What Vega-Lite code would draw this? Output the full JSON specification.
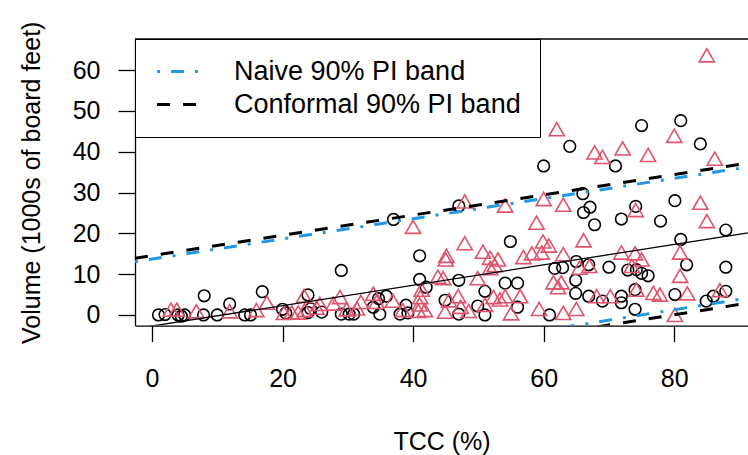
{
  "$schema": "https://vega.github.io/schema/vega-lite/v6.json",
  "autosize": "none",
  "width": 613,
  "height": 286.6,
  "padding": {"left": 135, "top": 39, "right": 0, "bottom": 129.4},
  "background": "white",
  "config": {
    "font": "Liberation Sans",
    "view": {"stroke": null},
    "axis": {
      "grid": false,
      "domainColor": "black",
      "domainWidth": 1.3,
      "tickColor": "black",
      "tickWidth": 1.3,
      "labelColor": "black",
      "titleColor": "black",
      "labelFont": "Liberation Sans",
      "titleFont": "Liberation Sans",
      "labelFontSize": 25,
      "titleFontSize": 25,
      "titleFontWeight": "normal"
    },
    "legend": {
      "orient": "top-left",
      "offset": 0,
      "padding": 19,
      "fillColor": "white",
      "strokeColor": "black",
      "labelFont": "Liberation Sans",
      "labelFontSize": 27,
      "labelColor": "black",
      "labelOffset": 43,
      "symbolOffset": 10,
      "symbolSize": 576,
      "symbolType": "M-1.7,0H1.7",
      "symbolStrokeWidth": 3,
      "rowPadding": 5,
      "labelLimit": 0
    }
  },
  "datasets": {
    "pts": [
      {"x": 1.0, "y": 0.0, "g": "A"}, {"x": 2.0, "y": 0.1, "g": "A"}, {"x": 4.0, "y": 0.0, "g": "A"}, {"x": 5.0, "y": 0.0, "g": "A"},
      {"x": 4.5, "y": -0.3, "g": "A"}, {"x": 7.9, "y": 0.0, "g": "A"}, {"x": 8.0, "y": 4.7, "g": "A"}, {"x": 10.0, "y": 0.0, "g": "A"},
      {"x": 11.9, "y": 2.7, "g": "A"}, {"x": 14.2, "y": 0.0, "g": "A"}, {"x": 15.1, "y": 0.0, "g": "A"}, {"x": 16.9, "y": 5.7, "g": "A"},
      {"x": 20.0, "y": 1.4, "g": "A"}, {"x": 20.5, "y": 0.5, "g": "A"}, {"x": 23.9, "y": 4.9, "g": "A"}, {"x": 23.9, "y": 0.6, "g": "A"},
      {"x": 24.3, "y": 1.5, "g": "A"}, {"x": 26.0, "y": 0.7, "g": "A"}, {"x": 29.0, "y": 10.9, "g": "A"}, {"x": 29.0, "y": 0.2, "g": "A"},
      {"x": 30.2, "y": 0.2, "g": "A"}, {"x": 30.9, "y": 0.2, "g": "A"}, {"x": 33.9, "y": 1.9, "g": "A"}, {"x": 34.7, "y": 4.0, "g": "A"},
      {"x": 34.9, "y": 0.2, "g": "A"}, {"x": 35.9, "y": 4.6, "g": "A"}, {"x": 37.0, "y": 23.4, "g": "A"}, {"x": 38.0, "y": 0.2, "g": "A"},
      {"x": 38.9, "y": 2.4, "g": "A"}, {"x": 39.2, "y": 0.5, "g": "A"}, {"x": 41.0, "y": 8.7, "g": "A"}, {"x": 41.0, "y": 14.5, "g": "A"},
      {"x": 42.0, "y": 6.8, "g": "A"}, {"x": 44.9, "y": 3.6, "g": "A"}, {"x": 47.0, "y": 26.7, "g": "A"}, {"x": 47.0, "y": 8.5, "g": "A"},
      {"x": 47.0, "y": 0.2, "g": "A"}, {"x": 49.9, "y": 2.2, "g": "A"}, {"x": 51.0, "y": 5.8, "g": "A"}, {"x": 51.0, "y": 0.0, "g": "A"},
      {"x": 54.1, "y": 7.8, "g": "A"}, {"x": 54.9, "y": 18.0, "g": "A"}, {"x": 56.0, "y": 7.8, "g": "A"}, {"x": 56.0, "y": 1.9, "g": "A"},
      {"x": 60.0, "y": 36.5, "g": "A"}, {"x": 60.9, "y": 0.0, "g": "A"}, {"x": 61.7, "y": 11.4, "g": "A"}, {"x": 62.9, "y": 11.6, "g": "A"},
      {"x": 64.0, "y": 41.3, "g": "A"}, {"x": 64.9, "y": 8.5, "g": "A"}, {"x": 64.9, "y": 5.3, "g": "A"}, {"x": 65.0, "y": 13.1, "g": "A"},
      {"x": 66.0, "y": 29.7, "g": "A"}, {"x": 66.1, "y": 25.1, "g": "A"}, {"x": 66.9, "y": 12.3, "g": "A"}, {"x": 66.9, "y": 4.6, "g": "A"},
      {"x": 67.1, "y": 26.4, "g": "A"}, {"x": 67.8, "y": 22.1, "g": "A"}, {"x": 69.0, "y": 3.4, "g": "A"}, {"x": 70.0, "y": 11.7, "g": "A"},
      {"x": 71.0, "y": 36.5, "g": "A"}, {"x": 71.9, "y": 23.5, "g": "A"}, {"x": 71.9, "y": 4.6, "g": "A"}, {"x": 71.9, "y": 3.0, "g": "A"},
      {"x": 72.9, "y": 11.0, "g": "A"}, {"x": 74.0, "y": 6.2, "g": "A"}, {"x": 74.0, "y": 1.4, "g": "A"}, {"x": 74.1, "y": 26.6, "g": "A"},
      {"x": 74.2, "y": 11.1, "g": "A"}, {"x": 75.0, "y": 46.4, "g": "A"}, {"x": 75.0, "y": 10.2, "g": "A"}, {"x": 76.0, "y": 9.6, "g": "A"},
      {"x": 77.9, "y": 23.0, "g": "A"}, {"x": 80.1, "y": 28.0, "g": "A"}, {"x": 80.1, "y": 5.0, "g": "A"}, {"x": 81.0, "y": 47.6, "g": "A"},
      {"x": 81.0, "y": 18.5, "g": "A"}, {"x": 81.9, "y": 12.3, "g": "A"}, {"x": 84.0, "y": 41.9, "g": "A"}, {"x": 84.9, "y": 3.4, "g": "A"},
      {"x": 86.0, "y": 4.6, "g": "A"}, {"x": 87.9, "y": 20.8, "g": "A"}, {"x": 87.9, "y": 11.7, "g": "A"}, {"x": 87.9, "y": 5.8, "g": "A"},
      {"x": 2.9, "y": 1.3, "g": "B"}, {"x": 3.8, "y": 1.3, "g": "B"}, {"x": 6.8, "y": 0.9, "g": "B"}, {"x": 11.9, "y": 0.9, "g": "B"},
      {"x": 16.0, "y": 1.2, "g": "B"}, {"x": 17.6, "y": 3.0, "g": "B"}, {"x": 20.2, "y": 0.5, "g": "B"}, {"x": 21.4, "y": 0.6, "g": "B"},
      {"x": 22.4, "y": 0.6, "g": "B"}, {"x": 23.3, "y": 4.7, "g": "B"}, {"x": 23.4, "y": 1.2, "g": "B"}, {"x": 25.2, "y": 1.8, "g": "B"},
      {"x": 25.7, "y": 2.7, "g": "B"}, {"x": 27.8, "y": 2.8, "g": "B"}, {"x": 28.8, "y": 4.4, "g": "B"}, {"x": 29.8, "y": 1.4, "g": "B"},
      {"x": 31.4, "y": 1.6, "g": "B"}, {"x": 32.0, "y": 3.2, "g": "B"}, {"x": 33.9, "y": 5.2, "g": "B"}, {"x": 34.4, "y": 3.2, "g": "B"},
      {"x": 36.9, "y": 3.5, "g": "B"}, {"x": 38.4, "y": 1.2, "g": "B"}, {"x": 40.0, "y": 21.6, "g": "B"}, {"x": 40.8, "y": 1.0, "g": "B"},
      {"x": 41.0, "y": 2.6, "g": "B"}, {"x": 41.1, "y": 4.4, "g": "B"}, {"x": 41.3, "y": 6.2, "g": "B"}, {"x": 41.8, "y": 1.2, "g": "B"},
      {"x": 43.8, "y": 9.4, "g": "B"}, {"x": 44.9, "y": 0.8, "g": "B"}, {"x": 45.1, "y": 14.5, "g": "B"}, {"x": 45.0, "y": 13.6, "g": "B"},
      {"x": 44.6, "y": 9.0, "g": "B"}, {"x": 45.5, "y": 3.6, "g": "B"}, {"x": 46.9, "y": 4.6, "g": "B"}, {"x": 47.3, "y": 2.0, "g": "B"},
      {"x": 47.9, "y": 27.8, "g": "B"}, {"x": 47.9, "y": 17.6, "g": "B"}, {"x": 48.5, "y": 1.0, "g": "B"}, {"x": 49.9, "y": 9.0, "g": "B"},
      {"x": 50.7, "y": 15.5, "g": "B"}, {"x": 51.0, "y": 2.5, "g": "B"}, {"x": 51.8, "y": 14.0, "g": "B"}, {"x": 51.8, "y": 11.5, "g": "B"},
      {"x": 52.3, "y": 4.4, "g": "B"}, {"x": 52.5, "y": 12.2, "g": "B"}, {"x": 53.0, "y": 13.6, "g": "B"}, {"x": 53.3, "y": 3.8, "g": "B"},
      {"x": 54.1, "y": 26.8, "g": "B"}, {"x": 54.1, "y": 4.6, "g": "B"}, {"x": 55.0, "y": 0.4, "g": "B"}, {"x": 56.4, "y": 4.6, "g": "B"},
      {"x": 56.9, "y": 14.2, "g": "B"}, {"x": 58.2, "y": 15.1, "g": "B"}, {"x": 58.9, "y": 22.6, "g": "B"}, {"x": 59.3, "y": 1.5, "g": "B"},
      {"x": 59.7, "y": 15.3, "g": "B"}, {"x": 59.9, "y": 18.0, "g": "B"}, {"x": 60.0, "y": 28.4, "g": "B"}, {"x": 60.8, "y": 17.0, "g": "B"},
      {"x": 61.5, "y": 8.0, "g": "B"}, {"x": 62.0, "y": 45.5, "g": "B"}, {"x": 62.2, "y": 6.8, "g": "B"}, {"x": 62.7, "y": 8.0, "g": "B"},
      {"x": 63.0, "y": 27.0, "g": "B"}, {"x": 63.0, "y": 14.9, "g": "B"}, {"x": 63.0, "y": 0.5, "g": "B"}, {"x": 65.0, "y": 1.5, "g": "B"},
      {"x": 65.5, "y": 11.6, "g": "B"}, {"x": 66.1, "y": 18.3, "g": "B"}, {"x": 67.0, "y": 12.0, "g": "B"}, {"x": 67.8, "y": 39.8, "g": "B"},
      {"x": 68.1, "y": 4.6, "g": "B"}, {"x": 69.0, "y": 38.7, "g": "B"}, {"x": 70.2, "y": 4.6, "g": "B"}, {"x": 71.9, "y": 15.3, "g": "B"},
      {"x": 72.1, "y": 40.8, "g": "B"}, {"x": 73.5, "y": 12.0, "g": "B"}, {"x": 74.0, "y": 15.1, "g": "B"}, {"x": 74.1, "y": 25.7, "g": "B"},
      {"x": 74.2, "y": 6.2, "g": "B"}, {"x": 75.0, "y": 13.6, "g": "B"}, {"x": 76.0, "y": 39.2, "g": "B"}, {"x": 76.8, "y": 5.4, "g": "B"},
      {"x": 77.8, "y": 5.0, "g": "B"}, {"x": 80.0, "y": 43.9, "g": "B"}, {"x": 80.1, "y": 0.0, "g": "B"}, {"x": 80.9, "y": 15.3, "g": "B"},
      {"x": 80.9, "y": 9.6, "g": "B"}, {"x": 82.0, "y": 5.3, "g": "B"}, {"x": 84.0, "y": 27.5, "g": "B"}, {"x": 85.0, "y": 63.6, "g": "B"},
      {"x": 85.0, "y": 23.0, "g": "B"}, {"x": 86.2, "y": 38.3, "g": "B"}, {"x": 87.0, "y": 6.1, "g": "B"}
    ],
    "fit": [
      {"x": -2.6, "y": -3.35},
      {"x": 91.3, "y": 20.1}
    ],
    "bands": [
      {"x": -2.6, "y": 13.06, "band": "Naive 90% PI band", "side": "upper"},
      {"x": 91.3, "y": 36.25, "band": "Naive 90% PI band", "side": "upper"},
      {"x": -2.6, "y": -19.76, "band": "Naive 90% PI band", "side": "lower"},
      {"x": 91.3, "y": 4.18, "band": "Naive 90% PI band", "side": "lower"},
      {"x": -2.6, "y": 13.9, "band": "Conformal 90% PI band", "side": "upper"},
      {"x": 91.3, "y": 37.2, "band": "Conformal 90% PI band", "side": "upper"},
      {"x": -2.6, "y": -20.76, "band": "Conformal 90% PI band", "side": "lower"},
      {"x": 91.3, "y": 2.91, "band": "Conformal 90% PI band", "side": "lower"}
    ]
  },
  "layer": [
    {
      "data": {"name": "pts"},
      "transform": [{"filter": "datum.g == 'A'"}],
      "mark": {"type": "point", "shape": "circle", "filled": false, "stroke": "black", "strokeWidth": 1.6, "size": 135, "opacity": 1},
      "encoding": {
        "x": {"field": "x", "type": "quantitative", "scale": {"domain": [-2.6, 91.3], "nice": false, "zero": false},
          "axis": {"title": "TCC (%)", "values": [0, 20, 40, 60, 80], "tickSize": 16, "labelPadding": 25, "titlePadding": 38, "labelFlush": false, "labelOverlap": false}},
        "y": {"field": "y", "type": "quantitative", "scale": {"domain": [-2.6, 67.6], "nice": false, "zero": false},
          "axis": {"title": "Volume (1000s of board feet)", "values": [0, 10, 20, 30, 40, 50, 60], "tickSize": 17, "labelPadding": 18, "titlePadding": 28, "labelFlush": false, "labelOverlap": false}}
      }
    },
    {
      "data": {"name": "pts"},
      "transform": [{"filter": "datum.g == 'B'"}],
      "mark": {"type": "point", "shape": "triangle-up", "filled": false, "stroke": "#DF536B", "strokeWidth": 1.6, "size": 230, "opacity": 1},
      "encoding": {
        "x": {"field": "x", "type": "quantitative", "scale": {"domain": [-2.6, 91.3], "nice": false, "zero": false}, "title": "TCC (%)"},
        "y": {"field": "y", "type": "quantitative", "scale": {"domain": [-2.6, 67.6], "nice": false, "zero": false}, "title": "Volume (1000s of board feet)"}
      }
    },
    {
      "data": {"name": "fit"},
      "mark": {"type": "line", "color": "black", "strokeWidth": 1.3, "clip": true},
      "encoding": {
        "x": {"field": "x", "type": "quantitative", "scale": {"domain": [-2.6, 91.3], "nice": false, "zero": false}, "title": "TCC (%)"},
        "y": {"field": "y", "type": "quantitative", "scale": {"domain": [-2.6, 67.6], "nice": false, "zero": false}, "title": "Volume (1000s of board feet)"}
      }
    },
    {
      "data": {"name": "bands"},
      "mark": {"type": "line", "strokeWidth": 3, "clip": true, "strokeCap": "butt"},
      "encoding": {
        "x": {"field": "x", "type": "quantitative", "scale": {"domain": [-2.6, 91.3], "nice": false, "zero": false}, "title": "TCC (%)"},
        "y": {"field": "y", "type": "quantitative", "scale": {"domain": [-2.6, 67.6], "nice": false, "zero": false}, "title": "Volume (1000s of board feet)"},
        "detail": {"field": "side"},
        "color": {"field": "band", "type": "nominal",
          "scale": {"domain": ["Naive 90% PI band", "Conformal 90% PI band"], "range": ["#2297E6", "black"]},
          "legend": {"title": null}},
        "strokeDash": {"field": "band", "type": "nominal",
          "scale": {"domain": ["Naive 90% PI band", "Conformal 90% PI band"], "range": [[3, 11, 13, 11], [13, 13]]},
          "legend": {"title": null}}
      }
    },
    {
      "data": {"values": [{}]},
      "mark": {"type": "rule", "color": "black", "strokeWidth": 1.3},
      "encoding": {
        "y": {"datum": 67.6, "type": "quantitative", "scale": {"domain": [-2.6, 67.6], "nice": false, "zero": false}}
      }
    }
  ]
}
